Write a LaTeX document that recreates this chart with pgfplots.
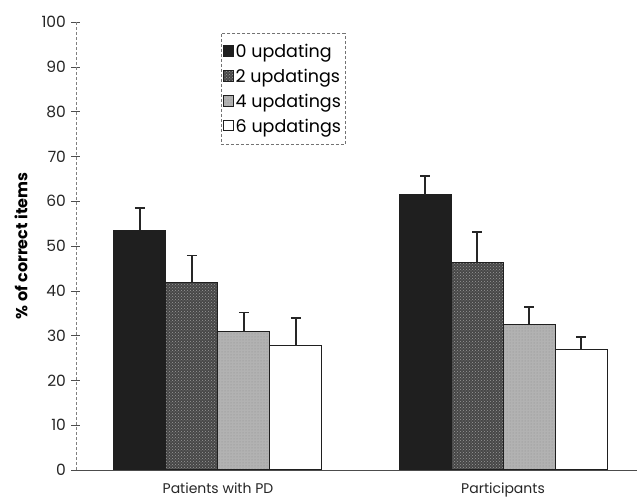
\documentclass[border=0pt]{standalone}
\usepackage{pgfplots}
\pgfplotsset{compat=1.18}
\usepackage{fontspec}
\setmainfont{Poppins}
\usetikzlibrary{patterns}
\begin{document}
\begin{tikzpicture}
\begin{axis}[
  at={(0,0)}, anchor=south west,
  scale only axis,
  width=561pt, height=448pt,
  ybar=0pt, bar width=52pt,
  xmin=-0.498, xmax=1.470,
  ymin=0, ymax=100,
  ytick={0,10,...,100},
  xtick={0,1},
  xticklabels={Patients with PD, Participants},
  xtick style={draw=none},
  axis x line=bottom, axis y line=left,
  axis line style={-},
  y axis line style={densely dashed, gray, thin},
  x axis line style={black!70, thin},
  ytick style={black!70, thin},
  tick align=center,
  major tick length=9pt,
  /pgf/number format/assume math mode=true,
  yticklabel style={font=\fontsize{15.5}{17}\selectfont, black!85, xshift=-2pt},
  xticklabel style={font=\fontsize{14}{16}\selectfont, black!85, yshift=-5pt},
  ylabel={\bfseries\% of correct items},
  ylabel style={font=\fontsize{16}{18}\selectfont, yshift=7pt},
  legend style={at={(0.258,0.975)}, anchor=north west, draw=black!55, densely dashed,
    font=\fontsize{17.5}{19}\selectfont, row sep=6pt, inner xsep=2pt, inner ysep=9pt,
    legend cell align=left, /tikz/every even column/.append style={column sep=0pt}},
  legend image code/.code={\draw[#1, solid, line width=0.8pt] (0pt,-4.5pt) rectangle (10pt,6pt);},
  error bars/y dir=plus, error bars/y explicit,
  error bars/error mark options={rotate=90, mark size=5pt, line width=1.3pt},
  error bars/error bar style={line width=1.3pt, black!85},
]
\addplot[fill=black!88, draw=black!88, line width=1pt] coordinates {(0,53.5) +- (0,5.0) (1,61.4) +- (0,4.2)};
\addplot[fill=black!72, draw=black!88, line width=1pt, postaction={pattern=crosshatch dots, pattern color=black!40}] coordinates {(0,41.8) +- (0,6.0) (1,46.3) +- (0,6.8)};
\addplot[fill=black!30, draw=black!88, line width=1pt, postaction={pattern=dots, pattern color=black!45}] coordinates {(0,30.9) +- (0,4.3) (1,32.5) +- (0,3.9)};
\addplot[fill=white, draw=black!88, line width=1pt] coordinates {(0,27.7) +- (0,6.2) (1,26.9) +- (0,2.8)};
\legend{0 updating, 2 updatings, 4 updatings, 6 updatings}
\end{axis}
\pgfresetboundingbox
\path (-76pt,-32pt) rectangle (561pt,470pt);
\end{tikzpicture}
\end{document}
